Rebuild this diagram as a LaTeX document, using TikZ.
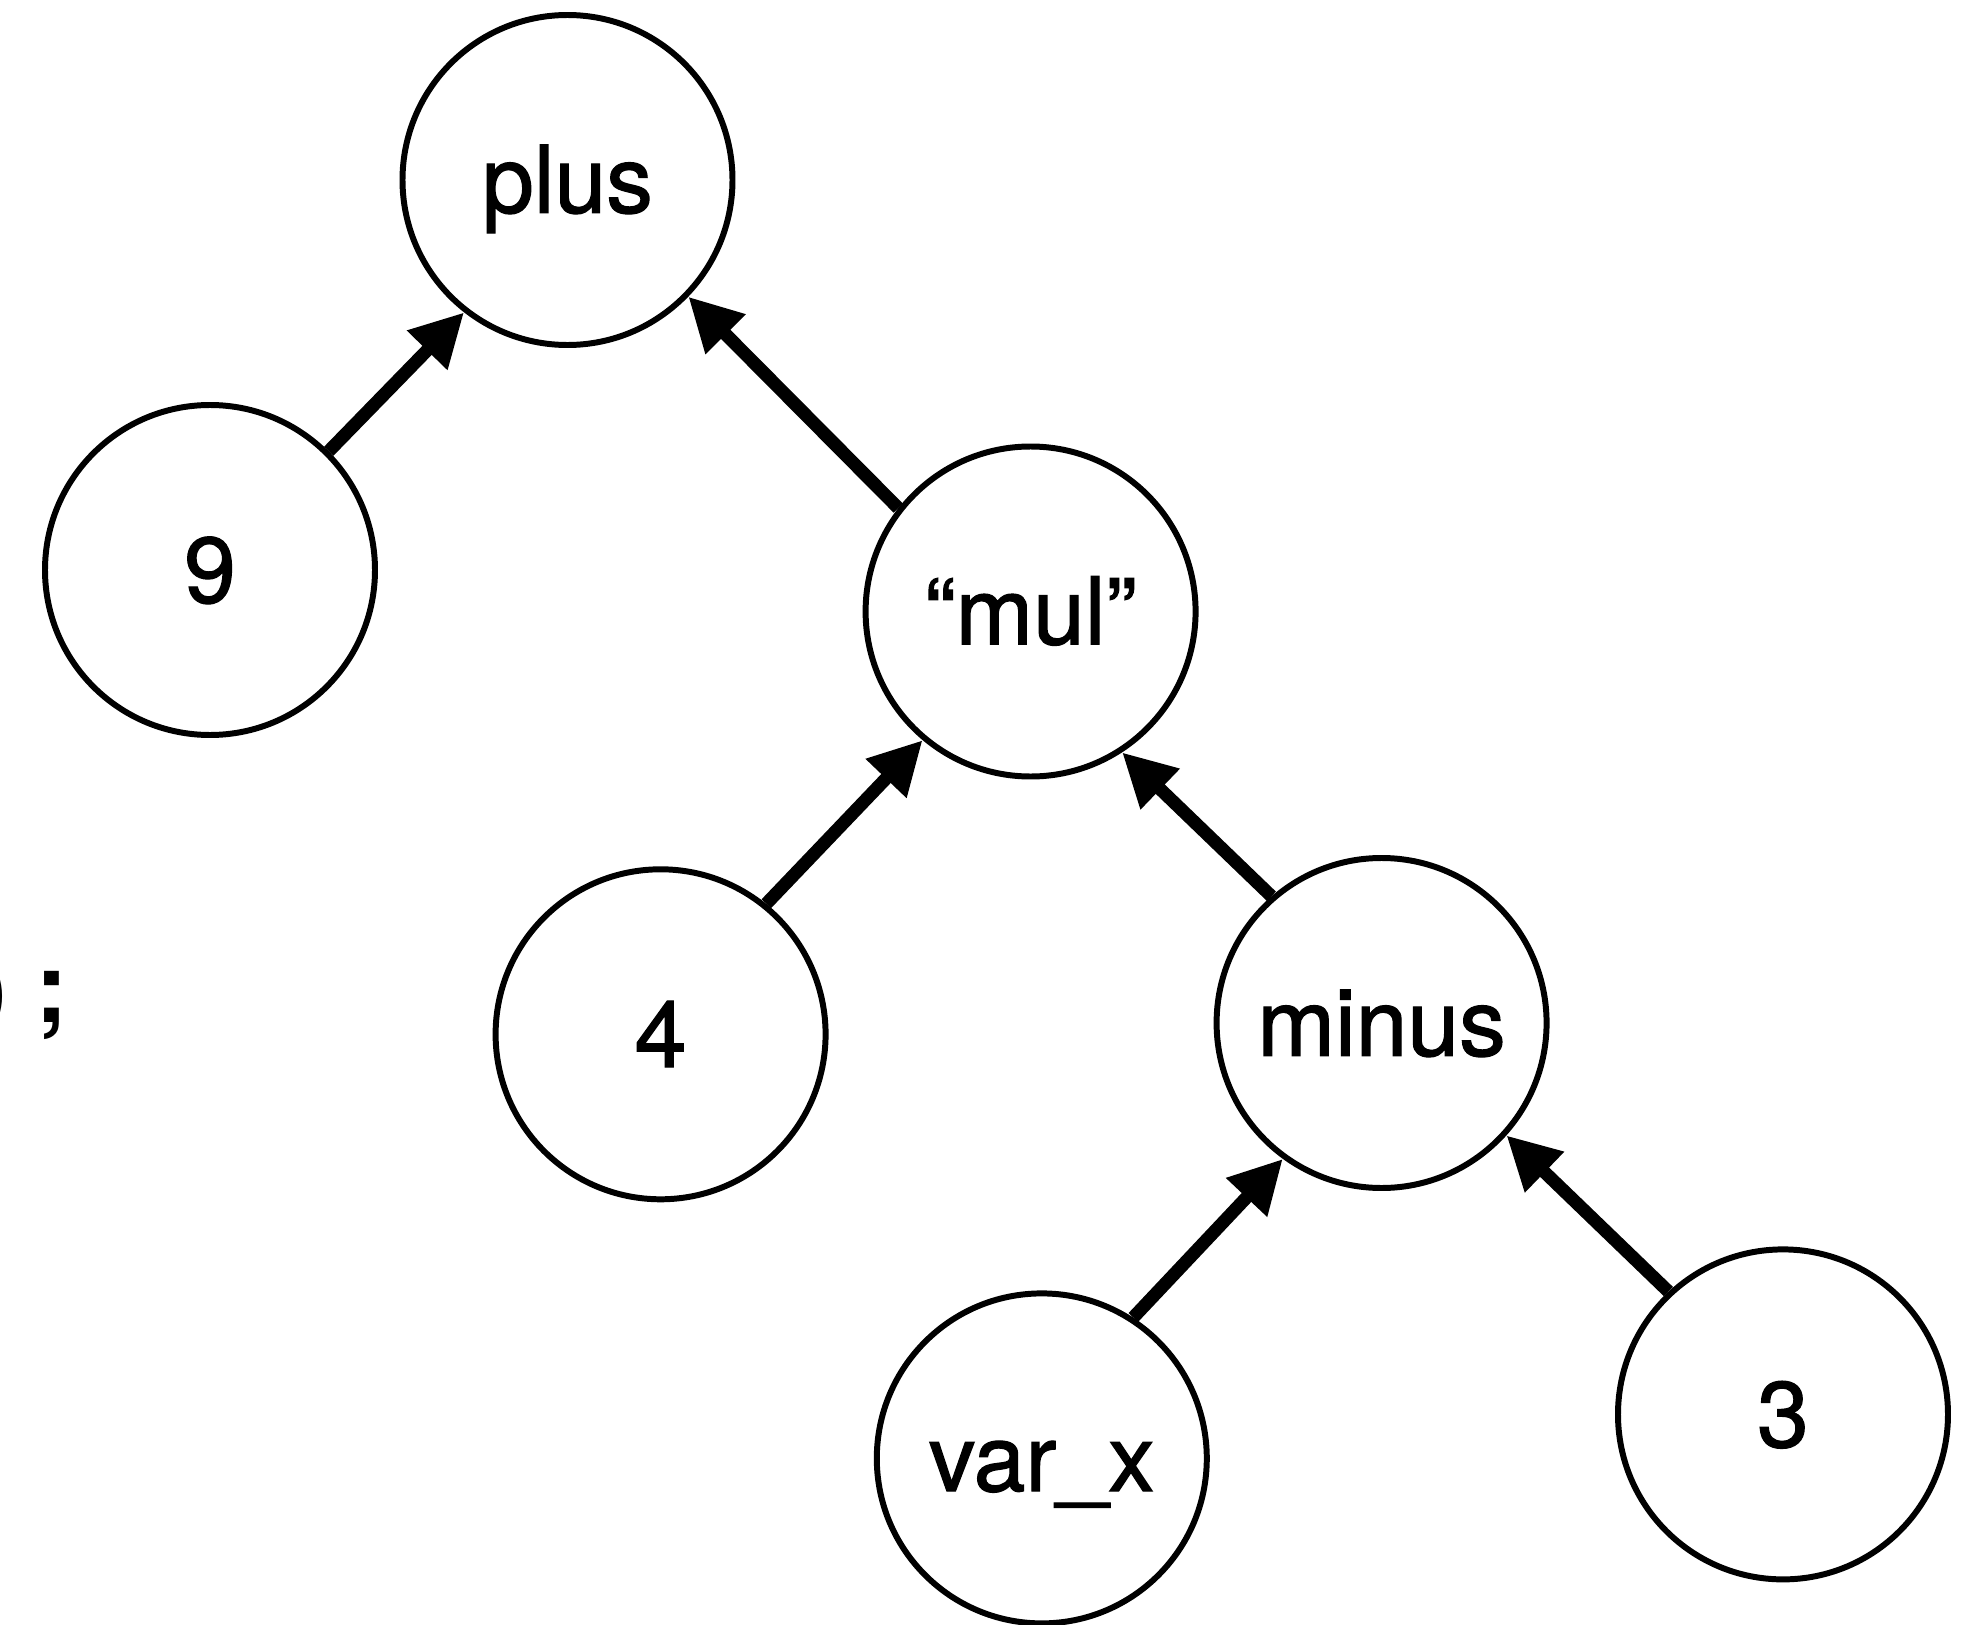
\documentclass[tikz,border=0pt]{standalone}
\usepackage{fontspec}
\setmainfont{TeX Gyre Heros}
\newfontfamily\testonodo[FakeBold=1.3]{TeX Gyre Heros}
\usetikzlibrary{arrows.meta}

\begin{document}
\begin{tikzpicture}[
  nodo/.style={circle, draw=black, line width=1.7pt, minimum size=3.30cm, inner sep=0pt,
               text height=0.654cm, text depth=0cm,
               font=\testonodo\fontsize{26.5pt}{30pt}\selectfont},
  freccia/.style={draw=black, line width=3.7pt, -{Triangle[length=0.53cm, width=0.53cm]}},
  etichetta/.style={inner sep=0pt, font=\fontsize{28pt}{32pt}\selectfont\bfseries}
]
\useasboundingbox (0,0) rectangle (19.73,-16.25);

%--------------------------------------------------------------
% Frammento di testo sul bordo sinistro
%--------------------------------------------------------------
\node[etichetta, anchor=base east] (frammento) at (0.69,-10.22) {)\kern0.01cm\ ;};

%--------------------------------------------------------------
% Nodi dell'albero
%--------------------------------------------------------------
\node[nodo] (plus)  at (5.675,-1.800)   {plus};
\node[nodo] (nove)  at (2.100,-5.700)   {9};
\node[nodo] (mul)   at (10.306,-6.115)  {“mul”};
\node[nodo] (quattro) at (6.606,-10.343) {4};
\node[nodo] (minus) at (13.816,-10.230) {minus};
\node[nodo] (varx)  at (10.418,-14.584) {var\_x};
\node[nodo] (tre)   at (17.830,-14.144) {3};

%--------------------------------------------------------------
% Archi verso il padre (inclinati a circa 45 gradi)
%--------------------------------------------------------------
\draw[freccia] (nove.45.6)     -- (plus.232.7);
\draw[freccia] (mul.142.7)     -- (plus.316.2);
\draw[freccia] (quattro.51.9)  -- (mul.230);
\draw[freccia] (minus.131.4)   -- (mul.303.6);
\draw[freccia] (varx.57.3)     -- (minus.234.5);
\draw[freccia] (tre.133)       -- (minus.318.7);

\end{tikzpicture}
\end{document}
